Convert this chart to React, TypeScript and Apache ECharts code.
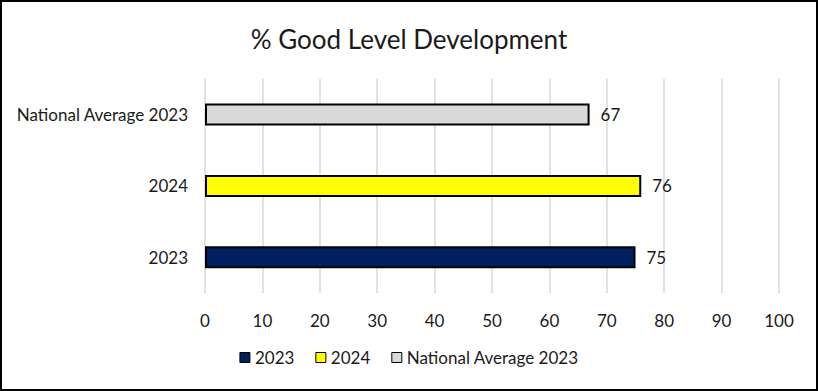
import React, { useEffect, useRef } from "react";
import * as echarts from "echarts";

const categories = ["2023", "2024", "National Average 2023"];
const seriesNames = ["2023", "2024", "National Average 2023"];
const seriesValues = [75, 76, 67];
const seriesColors = ["#001f5f", "#ffff00", "#d9d9d9"];
const xTicks = { min: 0, max: 100, interval: 10 };
const titleText = "% Good Level Development";

const FONT = "Lato, 'Liberation Sans', sans-serif";

export default function App() {
  const ref = useRef<HTMLDivElement>(null);
  useEffect(() => {
    if (!ref.current) return;
    const chart = echarts.init(ref.current, undefined, { renderer: "svg" });
    const series = seriesNames.map((name, i) => ({
      name,
      type: "bar",
      barWidth: 22,
      barGap: "-100%",
      data: categories.map((_, j) => (j === i ? seriesValues[i] : null)),
      itemStyle: { color: seriesColors[i], borderColor: "#000", borderWidth: 2 },
      label: {
        show: true,
        position: "right",
        distance: 11,
        color: "#1a1a1a",
        fontFamily: FONT,
        fontSize: 17,
      },
    }));
    chart.setOption({
      animation: false,
      backgroundColor: "#fff",
      title: {
        text: titleText,
        left: "center",
        top: 21,
        textStyle: { fontFamily: FONT, fontSize: 26, fontWeight: "normal", color: "#1a1a1a" },
      },
      graphic: [
        {
          type: "rect",
          shape: { x: 1, y: 1, width: 816, height: 389 },
          style: { fill: "none", stroke: "#000", lineWidth: 2 },
          z: 100,
        },
      ],
      legend: {
        bottom: 20,
        left: "center",
        itemWidth: 10,
        itemHeight: 10,
        itemGap: 21,
        icon: "rect",
        itemStyle: { borderWidth: 1, borderColor: "#000" },
        textStyle: { fontFamily: FONT, fontSize: 17, color: "#1a1a1a" },
        data: seriesNames,
      },
      grid: { left: 205, right: 39, top: 78.8, bottom: 98, containLabel: false },
      xAxis: {
        type: "value",
        min: xTicks.min,
        max: xTicks.max,
        interval: xTicks.interval,
        axisLine: { show: false },
        axisTick: { show: false },
        splitLine: { show: true, lineStyle: { color: "#d9d9d9", width: 1.5 } },
        axisLabel: { margin: 19, fontFamily: FONT, fontSize: 17, color: "#1a1a1a" },
      },
      yAxis: {
        type: "category",
        data: categories,
        axisLine: { show: false },
        axisTick: { show: false },
        axisLabel: { margin: 17, fontFamily: FONT, fontSize: 17, color: "#1a1a1a" },
      },
      series,
    });
    return () => chart.dispose();
  }, []);
  return (
    <div style={{ position: "fixed", left: 0, top: 0, width: 818, height: 391 }}>
      <div ref={ref} style={{ width: 818, height: 391 }} />
    </div>
  );
}
